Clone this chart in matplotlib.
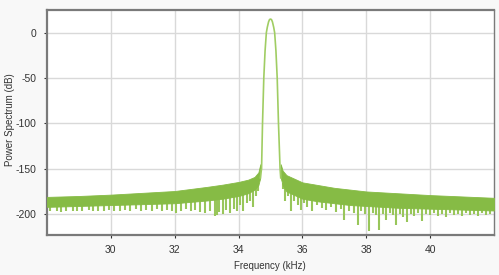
import matplotlib
matplotlib.use("Agg")
import matplotlib.pyplot as plt
import numpy as np

# ---- data ----
lobe_freq = [34.68, 34.70, 34.72, 34.75, 34.79, 34.83, 34.87, 34.90, 34.94, 34.97, 35.00,
             35.03, 35.06, 35.10, 35.13, 35.17, 35.21, 35.25, 35.28, 35.30, 35.32]
lobe_db = [-160, -155, -150, -100, -50, -20, 0, 6, 12, 14.5, 15,
           14.5, 12, 6, 0, -20, -50, -100, -130, -150, -160]

left_freq = [28, 29, 30, 31, 32, 33, 33.5, 34, 34.3, 34.5, 34.62, 34.68]
left_upper = [-181, -180, -178.5, -176.5, -174.5, -170, -167.5, -164.5, -162, -159, -154, -145]
left_lower = [-192, -191, -190, -189, -188, -185, -183, -180, -177, -173, -168, -160]

right_freq = [35.32, 35.38, 35.5, 36, 36.5, 37, 37.5, 38, 39, 40, 41, 42]
right_upper = [-145, -152, -157, -165, -168, -171, -173, -175, -177, -179, -180.5, -182]
right_lower = [-160, -168, -175, -183, -186, -188, -190, -191, -193, -194, -195, -196]

dip_freq = [28.1, 28.3, 28.45, 28.6, 28.8, 28.95, 29.1, 29.3, 29.45, 29.6, 29.8, 29.95,
            30.1, 30.3, 30.45, 30.6, 30.8, 30.95, 31.1, 31.3, 31.45, 31.6, 31.75, 31.9,
            32.05, 32.2, 32.35, 32.5, 32.65, 32.8, 32.95, 33.1, 33.25, 33.32, 33.4, 33.5,
            33.6, 33.72, 33.85, 33.95, 34.05, 34.15, 34.25, 34.35, 34.45, 34.55, 34.62,
            35.38, 35.45, 35.55, 35.65, 35.75, 35.85, 35.94, 36.05, 36.15, 36.3, 36.45,
            36.6, 36.75, 36.9, 37.05, 37.2, 37.31, 37.45, 37.6, 37.73, 37.85, 37.95, 38.07,
            38.2, 38.3, 38.41, 38.52, 38.62, 38.75, 38.85, 38.93, 39.05, 39.15, 39.28,
            39.4, 39.5, 39.62, 39.75, 39.88, 40.0, 40.12, 40.25, 40.38, 40.5, 40.62,
            40.75, 40.88, 41.0, 41.12, 41.25, 41.38, 41.5, 41.62, 41.75, 41.88]
dip_db = [-197, -196, -198, -196, -197, -196, -197, -195, -197, -196, -197, -195,
          -196, -197, -195, -196, -194, -196, -195, -197, -194, -196, -195, -197,
          -199, -196, -194, -197, -195, -198, -199, -196, -202, -201, -198, -200,
          -195, -199, -194, -196, -190, -197, -188, -185, -192, -180, -175,
          -172, -185, -180, -196, -186, -190, -195, -188, -192, -197, -190,
          -193, -195, -192, -198, -194, -206, -196, -199, -212, -197, -200, -219,
          -199, -201, -217, -200, -206, -199, -201, -212, -200, -203, -209,
          -200, -202, -199, -208, -200, -201, -199, -202, -200, -203, -199,
          -201, -200, -202, -199, -201, -200, -202, -199, -201, -200]

x_ticks = [30, 32, 34, 36, 38, 40]
y_ticks = [0, -50, -100, -150, -200]

# ---- figure ----
W, H = 499, 275
fig = plt.figure(figsize=(W / 100, H / 100), dpi=100, facecolor="#f8f8f8")
plt.rcParams["font.family"] = ["Liberation Sans", "DejaVu Sans"]
ax = fig.add_axes([47 / W, 1 - 235 / H, (494 - 47) / W, (235 - 10) / H])
ax.set_facecolor("white")

band = "#86bb45"
light = "#98c65a"


def interp_lower(f):
    if f < 35:
        return np.interp(f, left_freq, left_lower)
    return np.interp(f, right_freq, right_lower)


lower_at_dips = [interp_lower(f) + 2 for f in dip_freq]
ax.vlines(dip_freq, dip_db, lower_at_dips, color=light, lw=1.5, zorder=2)
ax.fill_between(left_freq, left_lower, left_upper, color=band, lw=0.6, zorder=3)
ax.fill_between(right_freq, right_lower, right_upper, color=band, lw=0.6, zorder=3)
ax.plot(lobe_freq, lobe_db, color="#a0cd63", lw=1.2, zorder=4)

ax.set_xlim(28, 42)
ax.set_ylim(-223, 25)
ax.set_xticks(x_ticks)
ax.set_yticks(y_ticks)
ax.set_xticklabels([str(t) for t in x_ticks])
ax.set_yticklabels([str(t) for t in y_ticks])
ax.grid(True, color="#d9d9d9", lw=1.0, zorder=0)
ax.set_axisbelow(True)
ax.tick_params(axis="both", labelsize=7.5, colors="#333333", length=2.5, width=0.8, pad=5)
for s in ["left", "bottom", "top"]:
    ax.spines[s].set_color("#7a7a7a")
    ax.spines[s].set_linewidth(1.6)
ax.spines["right"].set_color("#7a7a7a")
ax.spines["right"].set_linewidth(1.0)

fig.text(10 / W, 1 - 120 / H, "Power Spectrum (dB)", rotation=90, ha="center", va="center",
         fontsize=7, color="#333333")
fig.text(270 / W, 1 - 266 / H, "Frequency (kHz)", ha="center", va="center",
         fontsize=7, color="#333333")

fig.savefig("out.png", dpi=100, facecolor=fig.get_facecolor())
